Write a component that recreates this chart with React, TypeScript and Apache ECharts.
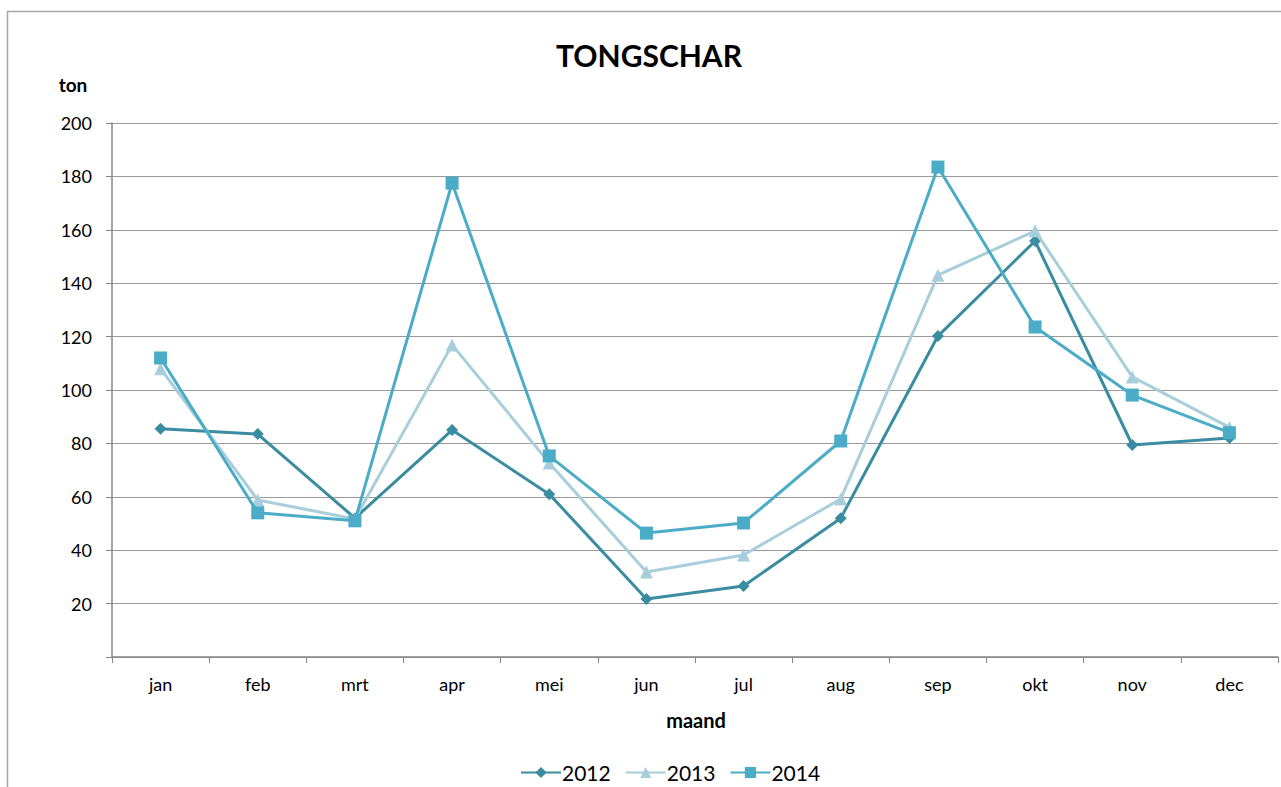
import React, { useEffect, useRef } from "react";
import * as echarts from "echarts";

const months = ["jan", "feb", "mrt", "apr", "mei", "jun", "jul", "aug", "sep", "okt", "nov", "dec"];
const s2012 = [85.5, 83.5, 52, 85, 61, 21.7, 26.6, 52, 120.2, 155.8, 79.4, 82];
const s2013 = [108, 58.8, 51.7, 116.9, 72.7, 31.8, 38.2, 59.2, 143, 159.6, 104.9, 86];
const s2014 = [112, 54, 51, 177.5, 75.3, 46.4, 50.2, 80.9, 183.5, 123.6, 98.1, 84];
const seriesNames = ["2012", "2013", "2014"];
const colors = ["#3A8CA1", "#A8CEDB", "#4AACC6"];
const symbols = ["diamond", "triangle", "rect"];

const FONT = "Lato, 'Open Sans', sans-serif";

export default function App() {
  const ref = useRef<HTMLDivElement>(null);
  useEffect(() => {
    if (!ref.current) return;
    const chart = echarts.init(ref.current, null, { renderer: "svg" });
    const data = [s2012, s2013, s2014];
    chart.setOption({
      animation: false,
      backgroundColor: "#ffffff",
      textStyle: { fontFamily: FONT },
      title: {
        text: "TONGSCHAR",
        left: 644,
        top: 35,
        textAlign: "center",
        textStyle: { fontFamily: FONT, fontSize: 30, fontWeight: "bold", color: "#000" },
      },
      graphic: [
        {
          type: "rect",
          shape: { x: 7.5, y: 11.5, width: 1300, height: 800 },
          style: { fill: "none", stroke: "#A6A6A6", lineWidth: 1.5 },
          silent: true,
        },
        {
          type: "text",
          x: 73,
          y: 84,
          style: {
            text: "ton",
            fontFamily: FONT,
            fontSize: 19,
            fontWeight: "bold",
            fill: "#000",
            textAlign: "center",
            textVerticalAlign: "middle",
          },
        },
        {
          type: "text",
          x: 696,
          y: 720,
          style: {
            text: "maand",
            fontFamily: FONT,
            fontSize: 20,
            fontWeight: "bold",
            fill: "#000",
            textAlign: "center",
            textVerticalAlign: "middle",
          },
        },
      ],
      legend: {
        data: seriesNames,
        left: 515,
        top: 757,
        itemWidth: 40,
        itemHeight: 14,
        itemGap: 14,
        textStyle: { fontFamily: FONT, fontSize: 21, color: "#000", padding: [0, 0, 0, -4] },
      },
      grid: { left: 112, right: 3, top: 123, bottom: 130, containLabel: false },
      xAxis: {
        type: "category",
        data: months,
        boundaryGap: true,
        axisLine: { lineStyle: { color: "#878787", width: 1.5 } },
        axisTick: { show: true, length: 6, lineStyle: { color: "#878787" } },
        axisLabel: { color: "#000", fontSize: 18, fontFamily: FONT, margin: 18 },
        splitLine: { show: false },
      },
      yAxis: {
        type: "value",
        min: 0,
        max: 200,
        interval: 20,
        axisLine: { show: true, lineStyle: { color: "#878787", width: 1.5 } },
        axisTick: { show: true, length: 6, lineStyle: { color: "#878787" } },
        axisLabel: {
          color: "#000",
          fontSize: 18,
          fontFamily: FONT,
          margin: 20,
          formatter: (v: number) => (v === 0 ? "" : String(v)),
        },
        splitLine: { show: true, lineStyle: { color: "#999999", width: 1.2 } },
      },
      series: seriesNames.map((name, i) => ({
        name,
        type: "line",
        data: data[i],
        symbol: symbols[i],
        symbolSize: i === 0 ? 12 : 13,
        showAllSymbol: true,
        itemStyle: { color: colors[i] },
        lineStyle: { color: colors[i], width: 3 },
        z: 2 + i,
      })),
    });
    return () => chart.dispose();
  }, []);
  return (
    <div
      ref={ref}
      style={{ position: "fixed", left: 0, top: 0, width: 1281, height: 787 }}
    />
  );
}
